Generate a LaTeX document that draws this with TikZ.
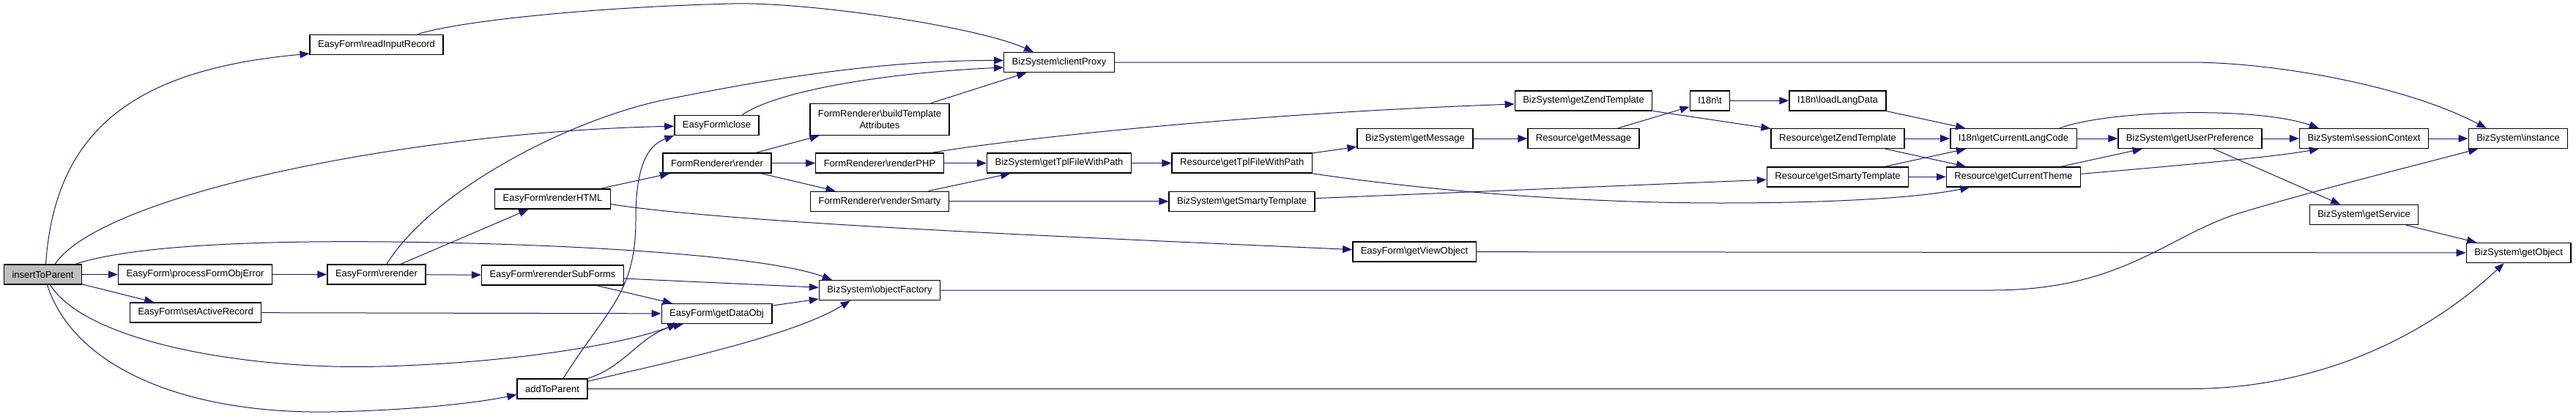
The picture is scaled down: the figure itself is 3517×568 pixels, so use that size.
\documentclass[tikz,border=0pt]{standalone}
\usepackage{fontspec}
\setmainfont{Liberation Sans}
\usepackage{tikz}
\usetikzlibrary{arrows.meta}
\definecolor{callblue}{RGB}{25,25,112}
\definecolor{rootgray}{RGB}{191,191,191}
\newcommand{\bsl}{\textbackslash}
\tikzset{
  fn/.style={draw=black, fill=white, line width=1.4pt, minimum height=27pt,
    inner xsep=11pt, inner ysep=2pt, font=\fontsize{13}{16}\selectfont},
  root/.style={fn, fill=rootgray},
  call/.style={draw=callblue, line width=1pt, -{Triangle[length=13pt,width=10pt]}},
}
\begin{document}
\begin{tikzpicture}[x=1pt,y=-1pt]
  \useasboundingbox (0,0) rectangle (3517,568);
  % functions, left to right
  \node[root] (insertToParent) at (58.5,374.5) {insertToParent};
  \node[fn] (processFormObjError) at (266.5,374.5) {EasyForm\bsl processFormObjError};
  \node[fn] (setActiveRecord) at (267,426.5) {EasyForm\bsl setActiveRecord};
  \node[fn] (readInputRecord) at (514,61) {EasyForm\bsl readInputRecord};
  \node[fn] (rerender) at (514,374.5) {EasyForm\bsl rerender};
  \node[fn] (renderHTML) at (754.5,271.6) {EasyForm\bsl renderHTML};
  \node[fn] (rerenderSubForms) at (754.5,375.6) {EasyForm\bsl rerenderSubForms};
  \node[fn] (addToParent) at (754,530.5) {addToParent};
  \node[fn] (close) at (978.5,170.7) {EasyForm\bsl close};
  \node[fn] (render) at (979,222.6) {FormRenderer\bsl render};
  \node[fn] (getDataObj) at (978.5,428) {EasyForm\bsl getDataObj};
  \node[fn, align=center, minimum height=43pt] (buildAttrs) at (1201,163)
    {FormRenderer\bsl buildTemplate\\Attributes};
  \node[fn] (renderPHP) at (1201,222.6) {FormRenderer\bsl renderPHP};
  \node[fn] (renderSmarty) at (1201,274.7) {FormRenderer\bsl renderSmarty};
  \node[fn] (objectFactory) at (1201,396) {BizSystem\bsl objectFactory};
  \node[fn] (clientProxy) at (1446,85) {BizSystem\bsl clientProxy};
  \node[fn] (bizTplPath) at (1446,222.6) {BizSystem\bsl getTplFileWithPath};
  \node[fn] (resTplPath) at (1695.7,222.6) {Resource\bsl getTplFileWithPath};
  \node[fn] (bizSmarty) at (1695.6,274.7) {BizSystem\bsl getSmartyTemplate};
  \node[fn] (bizMessage) at (1932,189) {BizSystem\bsl getMessage};
  \node[fn] (viewObject) at (1931,343.6) {EasyForm\bsl getViewObject};
  \node[fn] (resMessage) at (2162,189) {Resource\bsl getMessage};
  \node[fn] (bizZend) at (2162,137.3) {BizSystem\bsl getZendTemplate};
  \node[fn] (i18nT) at (2334.5,137.3) {I18n\bsl t};
  \node[fn] (loadLangData) at (2509,137.3) {I18n\bsl loadLangData};
  \node[fn] (resZend) at (2509,189) {Resource\bsl getZendTemplate};
  \node[fn] (resSmarty) at (2509,241.3) {Resource\bsl getSmartyTemplate};
  \node[fn] (langCode) at (2749,189) {I18n\bsl getCurrentLangCode};
  \node[fn] (curTheme) at (2749,241.3) {Resource\bsl getCurrentTheme};
  \node[fn] (userPref) at (2990,189) {BizSystem\bsl getUserPreference};
  \node[fn] (sessionContext) at (3227.5,189) {BizSystem\bsl sessionContext};
  \node[fn] (getService) at (3227.5,293) {BizSystem\bsl getService};
  \node[fn] (instance) at (3438,189) {BizSystem\bsl instance};
  \node[fn] (getObject) at (3438.6,345) {BizSystem\bsl getObject};
  % straight calls
  \foreach \a/\b in {insertToParent/processFormObjError, insertToParent/setActiveRecord,
      processFormObjError/rerender, rerender/renderHTML, rerender/rerenderSubForms,
      renderHTML/render, render/buildAttrs, render/renderPHP, render/renderSmarty,
      rerenderSubForms/objectFactory, rerenderSubForms/getDataObj, setActiveRecord/getDataObj,
      getDataObj/objectFactory, buildAttrs/clientProxy, renderPHP/bizTplPath,
      renderSmarty/bizTplPath, renderSmarty/bizSmarty, bizTplPath/resTplPath,
      resTplPath/bizMessage, bizSmarty/resSmarty, bizMessage/resMessage, resMessage/i18nT,
      bizZend/resZend, i18nT/loadLangData, loadLangData/langCode, resZend/langCode,
      resZend/curTheme, resSmarty/langCode, resSmarty/curTheme, langCode/userPref,
      curTheme/userPref, userPref/sessionContext, userPref/getService,
      sessionContext/instance, getService/getObject, viewObject/getObject}
    \draw[call] (\a) -- (\b);
  % curved calls
  \draw[call] ([xshift=4pt]insertToParent.north) .. controls (75,180) and (180,95) .. ([yshift=2pt]readInputRecord.south west);
  \draw[call] ([xshift=16.5pt]insertToParent.north) .. controls (140,265) and (560,180) .. ([yshift=-1.5pt]close.west);
  \draw[call] ([xshift=-9pt]insertToParent.north east) .. controls (180,335) and (350,328) .. (535,330)
    .. controls (800,333) and (1050,350) .. ([xshift=18pt]objectFactory.north west);
  \draw[call] ([xshift=10pt]insertToParent.south) .. controls (120,470) and (350,505) .. (520,500)
    .. controls (700,495) and (850,470) .. ([xshift=22pt]getDataObj.south west);
  \draw[call] ([xshift=6pt]insertToParent.south) .. controls (100,500) and (250,565) .. (450,562)
    .. controls (560,560) and (650,550) .. ([yshift=-8pt]addToParent.west);
  \draw[call] ([xshift=56pt]readInputRecord.north) .. controls (620,30) and (800,10) .. (1000,5)
    .. controls (1100,2.5) and (1330,35) .. ([xshift=41pt]clientProxy.north west);
  \draw[call] ([xshift=14pt]rerender.north) .. controls (590,260) and (780,160) .. (918,134)
    .. controls (1000,118) and (1180,82) .. ([yshift=2.5pt]clientProxy.west);
  \draw[call] ([xshift=35pt]close.north) .. controls (1060,125) and (1200,100) .. ([yshift=-7pt]clientProxy.west);
  \draw[call] ([yshift=-7pt]renderHTML.east) .. controls (1000,305) and (1500,325) .. ([yshift=3pt]viewObject.west);
  \draw[call] ([xshift=15pt]addToParent.north) .. controls (830,420) and (868,400) .. (868,300)
    .. controls (868,235) and (880,200) .. (close.south west);
  \draw[call] (addToParent.north east) .. controls (855,500) and (875,455) .. ([xshift=30pt]getDataObj.south west);
  \draw[call] ([yshift=-4pt]addToParent.north east) .. controls (900,497) and (1080,460) .. ([xshift=43pt]objectFactory.south west);
  \draw[call] (addToParent.east) -- (2990,530.5) .. controls (3150,530.5) and (3300,470) .. ([xshift=52pt]getObject.south west);
  \draw[call] (clientProxy.east) -- (2990,85) .. controls (3100,85) and (3280,115) .. ([xshift=25pt]instance.north west);
  \draw[call] (objectFactory.east) -- (2720,396) .. controls (2900,396) and (2960,320) .. (3060,290)
    .. controls (3160,260) and (3300,225) .. ([xshift=13.5pt]instance.south west);
  \draw[call] ([xshift=71pt]renderPHP.north) .. controls (1380,190) and (1700,155) .. ([yshift=-4.7pt]bizZend.west);
  \draw[call] (resTplPath.south east) .. controls (1950,260) and (2150,277) .. (2350,277)
    .. controls (2500,277) and (2620,270) .. ([xshift=32.5pt]curTheme.south west);
  \draw[call] ([xshift=63pt]langCode.north) .. controls (2880,150) and (3080,145) .. ([xshift=27pt]sessionContext.north west);
  \draw[call] ([yshift=4pt]curTheme.east) .. controls (2950,228) and (3100,215) .. ([xshift=27pt]sessionContext.south west);
\end{tikzpicture}
\end{document}
